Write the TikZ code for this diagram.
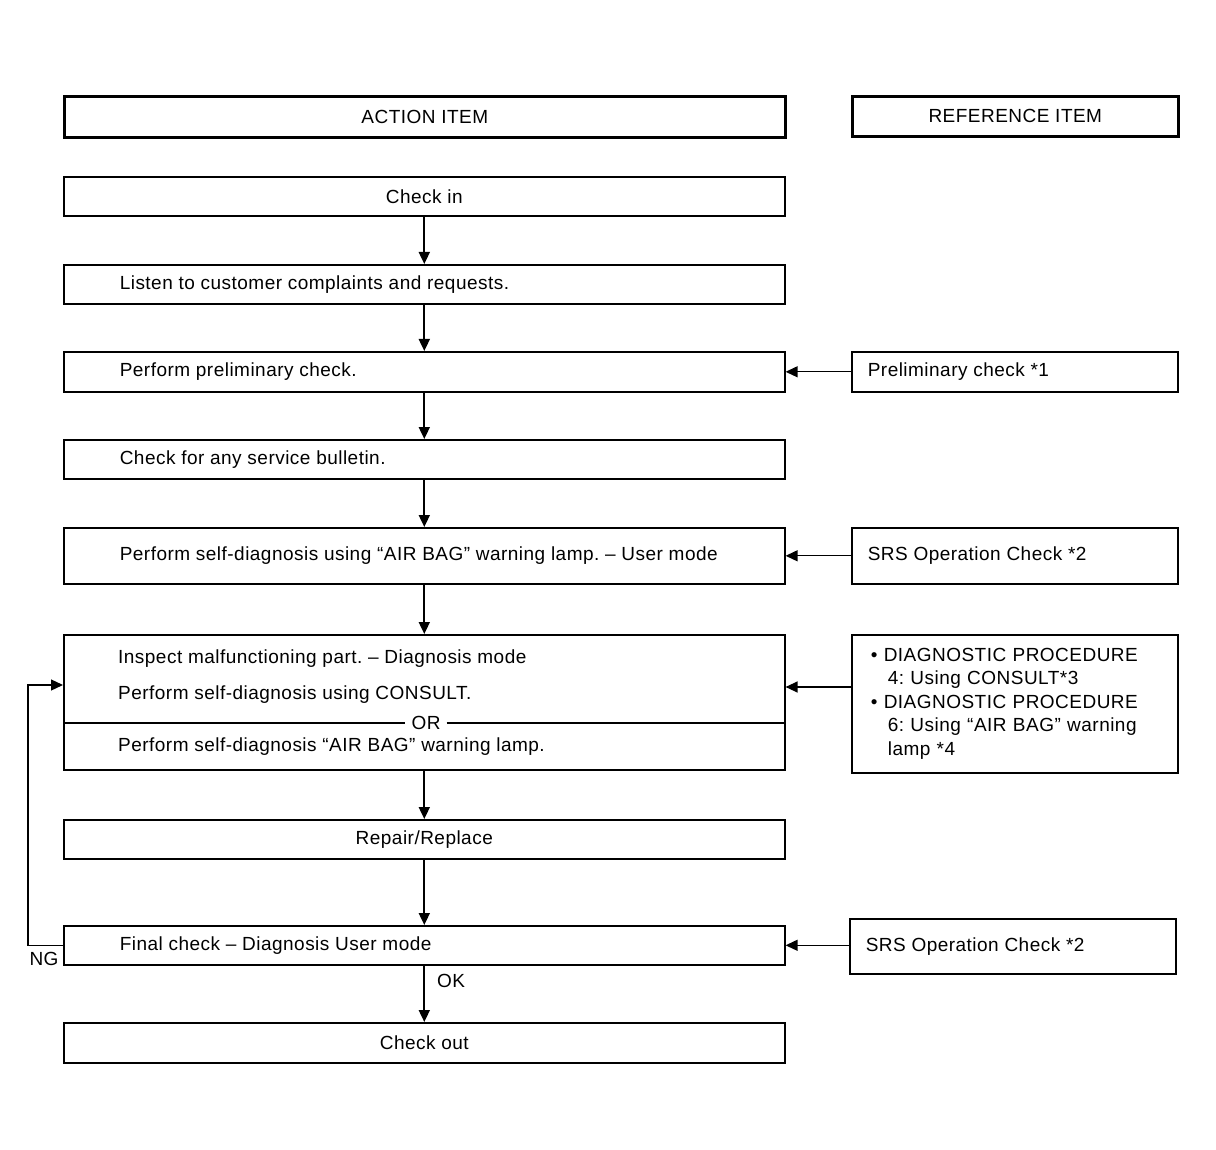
\documentclass[tikz,border=0pt]{standalone}
\usepackage{fontspec}
\setmainfont[LetterSpace=2.5]{Liberation Sans}
\usetikzlibrary{arrows.meta}
\frenchspacing
\newcommand{\lefttxt}[1]{\hspace*{56pt}\makebox[665pt][l]{#1}}
\newcommand{\righttxt}[1]{\hspace*{16pt}\makebox[310pt][l]{#1}}
\begin{document}
\begin{tikzpicture}[x=1pt,y=-1pt,
  every node/.style={font=\fontsize{19}{23.5}\selectfont, inner sep=0pt},
  box/.style={draw, line width=1.6pt, anchor=north west, minimum width=721pt, minimum height=39pt},
  hbox/.style={box, line width=2.6pt, minimum height=41pt},
  rbox/.style={draw, line width=1.6pt, anchor=north west, minimum width=326pt, minimum height=40pt},
  arr/.style={line width=1.8pt, -{Triangle[length=12pt,width=11pt]}},
  rarr/.style={line width=1.3pt, -{Triangle[length=12pt,width=11pt]}}
]
\useasboundingbox (0,0) rectangle (1216,1150);

% headers
\node[hbox] (action) at (63,95) {ACTION ITEM};
\node[hbox, minimum width=326pt, minimum height=40pt] (reference) at (851,95) {REFERENCE ITEM};

% action column
\node[box] (checkin) at (63,176) {Check in};
\node[box] (listen) at (63,264) {\lefttxt{Listen to customer complaints and requests.}};
\node[box, minimum height=40pt] (prelim) at (63,351) {\lefttxt{Perform preliminary check.}};
\node[box] (bulletin) at (63,439) {\lefttxt{Check for any service bulletin.}};
\node[box, minimum height=56pt] (selfdiag) at (63,527) {\lefttxt{Perform self-diagnosis using “AIR BAG” warning lamp. – User mode}};
\node[box, minimum height=135pt] (inspect) at (63,634) {};
\node[anchor=west] (insp1) at (118,659) {Inspect malfunctioning part. – Diagnosis mode};
\node[anchor=west] (insp2) at (118,695) {Perform self-diagnosis using CONSULT.};
\node[inner xsep=6pt] (or) at (426,723) {OR};
\node[anchor=west] (insp3) at (118,747) {Perform self-diagnosis “AIR BAG” warning lamp.};
\draw[line width=1.6pt] (inspect.west |- or) -- (or.west) (or.east) -- (inspect.east |- or);
\node[box] (repair) at (63,819) {Repair/Replace};
\node[box] (final) at (63,925) {\lefttxt{Final check – Diagnosis User mode}};
\node[box, minimum height=40pt] (checkout) at (63,1022) {Check out};

% reference column
\node[rbox] (rprelim) at (851,351) {\righttxt{Preliminary check *1}};
\node[rbox, minimum height=56pt] (rsrs1) at (851,527) {\righttxt{SRS Operation Check *2}};
\node[rbox, minimum height=138pt, text width=294pt, inner xsep=16pt, align=left] (rdiag) at (851,634) {%
\hspace*{3pt}\textbullet\ DIAGNOSTIC PROCEDURE\\
\hspace*{20pt}4: Using CONSULT*3\\
\hspace*{3pt}\textbullet\ DIAGNOSTIC PROCEDURE\\
\hspace*{20pt}6: Using “AIR BAG” warning\\
\hspace*{20pt}lamp *4};
\node[rbox, minimum height=55pt] (rsrs2) at (849,918) {\righttxt{SRS Operation Check *2}};

% vertical flow
\draw[arr] (checkin.south) -- (listen.north);
\draw[arr] (listen.south) -- (prelim.north);
\draw[arr] (prelim.south) -- (bulletin.north);
\draw[arr] (bulletin.south) -- (selfdiag.north);
\draw[arr] (selfdiag.south) -- (inspect.north);
\draw[arr] (inspect.south) -- (repair.north);
\draw[arr] (repair.south) -- (final.north);
\draw[arr] (final.south) -- (checkout.north);
\node[anchor=west] (ok) at (437,981) {OK};

% reference arrows
\coordinate (diagin) at (784,687);
\draw[rarr] (rprelim.west) -- (prelim.east);
\draw[rarr] (rsrs1.west) -- (selfdiag.east);
\draw[rarr] (rdiag.west |- diagin) -- (inspect.east |- diagin);
\draw[rarr] (rsrs2.west |- final.east) -- (final.east);

% NG loop
\coordinate (nginto) at (63,685);
\draw[rarr] (final.west) -- ++(-35,0) |- (inspect.west |- nginto);
\node (ng) at (44,959) {NG};
\end{tikzpicture}
\end{document}
